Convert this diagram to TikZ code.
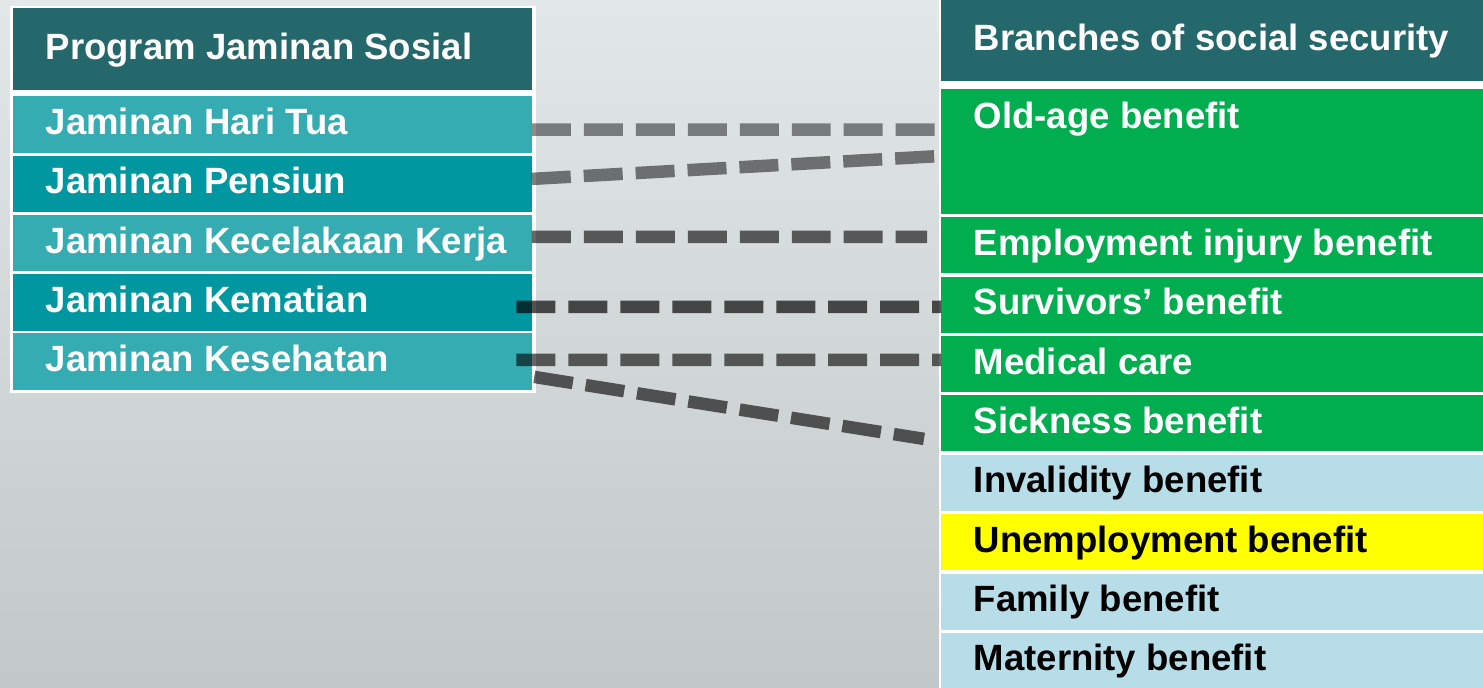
\documentclass[tikz,border=0pt]{standalone}
\usepackage{fontspec}
\setmainfont{Liberation Sans}
\definecolor{headteal}{HTML}{25686B}
\definecolor{tealL}{HTML}{35ACB2}
\definecolor{tealD}{HTML}{0097A0}
\definecolor{bgreen}{HTML}{00AE4F}
\definecolor{lblue}{HTML}{B7DEE8}
\definecolor{byellow}{HTML}{FFFF00}
\definecolor{bgtop}{HTML}{E2E7E7}
\definecolor{bgbot}{HTML}{C2C7C7}
\tikzstyle{lrow}=[rectangle,inner sep=0pt,outer sep=0pt,minimum width=10.38cm,minimum height=1.13cm]
\tikzstyle{rrow}=[rectangle,inner sep=0pt,outer sep=0pt,minimum width=10.84cm,minimum height=1.12cm]
\tikzstyle{rowtext}=[anchor=west,xshift=0.65cm,inner sep=0pt,text height=15.6pt,text depth=4.2pt,
font=\bfseries\fontsize{20.8}{25}\selectfont,text=white]
\tikzstyle{link}=[line width=0.25cm,dash pattern=on 0.78cm off 0.26cm,black]
\usetikzlibrary{positioning}

\begin{document}
\begin{tikzpicture}[x=0.02cm,y=-0.02cm]
            \shade[top color=bgtop,bottom color=bgbot] (0,0) rectangle (1483,688);
            \useasboundingbox (0,0) rectangle (1483,688);

            % PROGRAM PART

            \fill[white] (9.6,6) rectangle (535.7,392.7);
            \node[lrow,fill=headteal,minimum height=1.634cm,anchor=north west,
                label={[rowtext]west:Program Jaminan Sosial}] (lhead) at (12.9,8.3) {};
            \node[lrow,fill=tealL,below=0.13cm of lhead,	label={[rowtext]west:Jaminan Hari Tua}] (hari) {};
            \node[lrow,fill=tealD,below=0.054cm of hari,	label={[rowtext]west:Jaminan Pensiun}] (pensiun) {};
            \node[lrow,fill=tealL,below=0.054cm of pensiun,	label={[rowtext]west:Jaminan Kecelakaan Kerja}] (kecel) {};
            \node[lrow,fill=tealD,below=0.054cm of kecel,	label={[rowtext]west:Jaminan Kematian}] (kematian) {};
            \node[lrow,fill=tealL,below=0.054cm of kematian,	label={[rowtext]west:Jaminan Kesehatan}] (kesehatan) {};

            % BRANCHES PART

            \fill[white] (938.5,0) rectangle (1483,688);
            \node[rrow,fill=headteal,minimum height=1.62cm,anchor=north west,
                label={[rowtext]west:Branches of social security}] (rhead) at (941,0) {};
            \node[rrow,fill=bgreen,minimum height=2.488cm,below=0.166cm of rhead,
                label={[rowtext,anchor=north west,yshift=-0.23cm]north west:Old-age benefit}] (oldage) {};
            \node[rrow,fill=bgreen,below=0.072cm of oldage,	label={[rowtext]west:Employment injury benefit}] (employ) {};
            \node[rrow,fill=bgreen,below=0.068cm of employ,	label={[rowtext]west:Survivors’ benefit}] (surv) {};
            \node[rrow,fill=bgreen,below=0.068cm of surv,	label={[rowtext]west:Medical care}] (medical) {};
            \node[rrow,fill=bgreen,below=0.068cm of medical,	label={[rowtext]west:Sickness benefit}] (sick) {};
            \node[rrow,fill=lblue,below=0.068cm of sick,	label={[rowtext,text=black]west:Invalidity benefit}] (inval) {};
            \node[rrow,fill=byellow,below=0.068cm of inval,	label={[rowtext,text=black]west:Unemployment benefit}] (unemp) {};
            \node[rrow,fill=lblue,below=0.068cm of unemp,	label={[rowtext,text=black]west:Family benefit}] (family) {};
            \node[rrow,fill=lblue,minimum height=1.098cm,below=0.068cm of family,
                label={[rowtext,text=black]west:Maternity benefit}] (matern) {};

            % Connections

            \path[link,opacity=0.45] ([yshift=-0.1cm]hari.east) edge ([yshift=0.436cm]oldage.west);
            \path[link,opacity=0.5] ([yshift=0.1cm]pensiun.east) edge ([yshift=-0.09cm]oldage.west);
            \path[link,opacity=0.6] ([yshift=0.123cm]kecel.east) edge ([xshift=-0.28cm,yshift=0.166cm]employ.west);
            \path[link,opacity=0.68] ([xshift=-0.31cm,yshift=-0.093cm]kematian.east) edge ([yshift=-0.046cm]surv.west);
            \path[link,opacity=0.6] ([xshift=-0.31cm,yshift=0.031cm]kesehatan.east) edge ([yshift=0.082cm]medical.west);
            \path[link,opacity=0.62] ([xshift=0.05cm,yshift=-0.309cm]kesehatan.east) edge ([xshift=-0.34cm,yshift=-0.31cm]sick.west);

\end{tikzpicture}
\end{document}
